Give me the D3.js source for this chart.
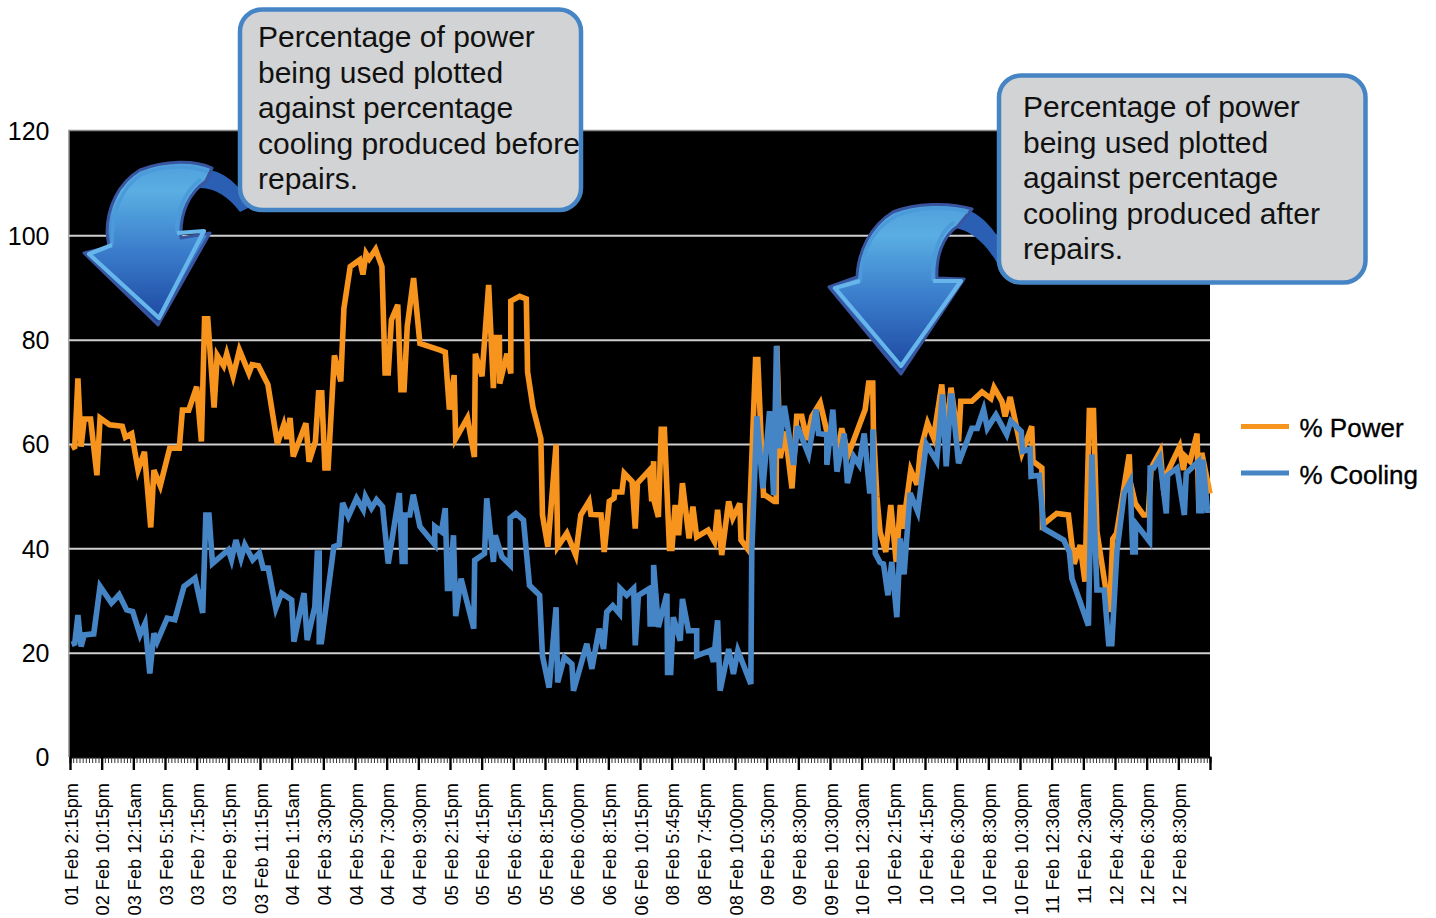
<!DOCTYPE html>
<html><head><meta charset="utf-8">
<style>html,body{margin:0;padding:0;background:#fff;overflow:hidden}svg{display:block}text{font-family:"Liberation Sans",Arial,sans-serif}</style>
<script src="https://cdn.jsdelivr.net/npm/d3@7/dist/d3.min.js"></script>
</head><body><svg id="c" width="1436" height="918"></svg>
<script>
const tickLabels = ["01 Feb 2:15pm","02 Feb 10:15pm","03 Feb 12:15am","03 Feb 5:15pm","03 Feb 7:15pm","03 Feb 9:15pm","03 Feb 11:15pm","04 Feb 1:15am","04 Feb 3:30pm","04 Feb 5:30pm","04 Feb 7:30pm","04 Feb 9:30pm","05 Feb 2:15pm","05 Feb 4:15pm","05 Feb 6:15pm","05 Feb 8:15pm","06 Feb 6:00pm","06 Feb 8:15pm","06 Feb 10:15pm","08 Feb 5:45pm","08 Feb 7:45pm","08 Feb 10:00pm","09 Feb 5:30pm","09 Feb 8:30pm","09 Feb 10:30pm","10 Feb 12:30am","10 Feb 2:15pm","10 Feb 4:15pm","10 Feb 6:30pm","10 Feb 8:30pm","10 Feb 10:30pm","11 Feb 12:30am","11 Feb 2:30am","12 Feb 4:30pm","12 Feb 6:30pm","12 Feb 8:30pm"];
const yTicks = [0,20,40,60,80,100,120];
const seriesNames = ["% Power","% Cooling"];
const categoryCount = 360;
const majorEvery = 10;

const powerIdx = [0,1,2,3,4,6,8,9,12,16,17,19,21,23,25,26,28,31,34,35,37,39.5,41,42,43,45,46,48,49,51,53,56,57,59,62,65,67,68,69,70,74,75,77,78,79,80,81,83,85,86,88,91,92,93,94,96,98,99,100,101,103,104,105,106,108,110,116.4,118,119.3,120.8,121.3,125,127.2,127.5,129.6,131.7,133.2,133.8,135.1,135.2,137.5,138.7,138.7,141.5,143.6,144,145.7,148.2,148.7,150.4,153,153.5,156.4,159.2,160.8,163.4,164,167.2,168.2,169.8,171.3,171.5,173.8,174.5,177,178,178.7,182.5,183.2,183.8,184,185.3,186.2,187.2,188.8,189.6,190.6,191.7,192.9,195,196.2,197.4,201,203,204,205.3,207.5,208.8,211,211.4,213.7,216,216.7,218.5,219,221.9,222.5,222.7,223.8,225.3,227.5,229,230.6,232.2,233.8,236.4,238.5,242.2,243.2,245.3,250.6,251.7,253,253.2,254.3,255.3,257.1,258.7,260.4,261.7,262.5,265,267,268,270.3,272.2,274.8,276.2,277.7,280.1,280.8,284.3,287.5,290.3,291.3,293.8,294.8,296.4,300.1,303.2,303.6,306.4,306.6,311.1,314.8,316.6,318.5,320,321.4,322.7,323.8,326.4,327.8,328.8,330,334,334.3,335.9,338.5,340,340.9,343.8,345,345.9,349.9,351.1,351.7,353.2,355.4,356,356.9,359.5];
const powerVal = [59.2,59.5,72.6,59.5,64.8,64.8,54,65,63.7,63.4,61.3,62,55,58.5,44,55,52,59.2,59.2,66.5,66.5,71,60.5,84,84,67,77,75,77.3,73,78,73.6,75.2,75,71.4,60,63.7,61,65,57.6,64,56.6,60.5,69.8,69.8,55.4,55.4,77,72,86,94,95.3,92.5,96.5,95.5,97.3,94,73.6,73.6,83.8,86.7,70.4,70.4,82.5,91.8,79.3,78,77.6,66.6,73.2,61,65,57.5,77.3,73,90.5,70.7,80.4,80.4,71.6,77.3,73.5,87.4,88.3,87.8,73.8,67,61,46.4,40.3,59.9,40.3,42.9,38.7,46.4,49,46.5,46.4,39.3,49,49.6,50.8,50.8,54.4,52.8,43.8,52.5,55,49,56.7,49,46,62.8,62.8,40,40,48.3,42.5,52.5,41.9,48,42.2,43.5,41.3,47.4,38.7,49,45.8,48.6,41.6,39.7,76.2,76.2,50.2,50.2,49,49,78.8,57.3,62.4,51.5,65.3,65.3,60.8,65.3,67.9,62.4,59.5,63,58,66.6,71.7,71.7,63,50,43.2,39.3,48.3,37.4,48.3,43.8,55,52.2,58.6,64,61.2,71.4,61.5,70.8,60.5,68.2,68.2,70,68.7,70.8,68.2,65.3,69,58.3,63.4,56.7,55.4,44.5,46.7,46.4,37,40.6,33.6,66.4,66.4,43.2,32.9,27.8,41.8,42.9,58,52.8,48.6,46.4,46.4,55.4,58.6,50.2,54.4,59.5,55,57.6,56.7,62,47,58.3,50.5];

const coolingIdx = [0,1,2,3,4,7,9,12.6,15,17.4,19.3,21.6,23.2,24.7,26,27,30.2,32.6,35.5,39,41.4,42.4,43.4,44.5,49.5,50.5,51.9,53.5,54.7,57.2,59.3,60.5,62.1,64.5,66.3,69.5,70.2,73.4,74.4,76.8,77.6,78.2,78.2,78.9,82.8,84.5,85.6,87.4,90,92.1,92.8,94.7,96.3,98.2,100,103.5,104.4,105.3,105.3,106.8,107.9,110,114.7,114.7,116.8,118,118.7,119.3,120.6,121.3,123,127,127.3,130.4,131.1,133.2,133.8,135.9,138.5,138.5,140.3,142.7,144.6,147.8,148.7,150.8,153,153.5,155.6,158,158.5,162.7,164.3,166.6,168,169,170.9,173,173.2,175.3,177.5,178,179,182.5,182.7,183.8,183.8,185.3,188,188.2,189.2,190,192.2,192.9,194.8,197.4,197.4,201.7,202.7,204,204.8,207.5,209,210.4,214.5,214.8,216.4,218.3,220.4,221.7,222.6,223.5,225.1,226.7,228,229.2,232.7,235.1,235.9,238.5,238.5,240.4,241.7,244,245,247,248.7,250.3,252,253,253,253.8,255.3,256.4,257.8,259,260.6,261.7,262.9,264.8,267.2,269.9,273.2,275,276.2,277.7,278,280.1,284.3,286,288,289.2,291.9,295.3,296.6,299.9,300.3,302.7,303,305.6,307,313.3,315.1,315.9,321.1,322.2,323.8,326.1,327.5,328.5,330.1,332.4,334.3,335.1,335.9,336,340.4,340.6,341.7,343.6,345.7,346.1,349.1,351.4,352,355.9,356,356.9,357.2,358.7,359.5];
const coolingVal = [21.6,21.8,27.2,21.2,23.4,23.6,32.7,29.5,31.1,28.2,27.9,23.4,25.6,16,23.7,22.1,26.6,26.3,32.7,34.3,27.6,46.4,46.4,37.1,39.7,37.8,41.6,38.1,40.7,37.8,39.1,36.2,36.2,28.5,31.4,30.1,22.1,31.4,22.4,28.8,39.1,39.1,22.1,22.1,40.3,40.7,48.7,46.1,49.6,47.4,49.9,47.7,49.3,48,37.1,50.6,37.5,37.5,46.4,46.4,50.3,44.2,40.7,44.2,43.2,47.7,32.3,32.3,42.5,27,34.2,24.6,37.7,39,49.6,37.4,42.5,38.4,36.8,45.8,46.7,45.4,32.9,31,19.4,13.3,28.7,14.3,19.1,17.8,12.7,21.7,16.9,24.6,20.7,27.8,29,27.5,32.3,31,32.3,21.4,31,32.3,25.5,25.5,36.8,24.9,31.3,16.2,16.2,26.8,22.3,30.3,24.2,24.2,19.4,20.4,18.2,26.2,12.7,20.7,15.9,20.4,14,39.3,65.3,51.5,66.3,50.2,78.8,59.2,67.3,61.2,56,63.4,58,66.6,62,61.8,56,66.6,54.7,62,52.5,57.6,56,62,51,51,62.8,39,37.3,37,31,37.4,26.8,41.9,35,50.6,47,60,56.7,69.5,55.7,69.2,69.2,56.3,63,63,66.6,63,65.6,61.8,64.4,62.4,58.6,59,53.8,54,43.8,41.6,39.3,34.2,25.2,58,32,32,21.7,21.7,39.3,50.6,52.8,39.3,39.3,44.8,41.3,55.4,55.4,57.3,46.7,54,55.4,46.4,54.4,56.7,47.2,47.2,57,47.3,47.3];

const calloutBefore = ["Percentage of power","being used plotted","against percentage","cooling produced before","repairs."];
const calloutAfter = ["Percentage of power","being used plotted","against percentage","cooling produced after","repairs."];

const colors = {power:"#F7941E", cooling:"#4685C5"};
const svg = d3.select("#c");
const x = d3.scaleLinear().domain([-0.5,categoryCount-0.5]).range([70,1210]);
const y = d3.scaleLinear().domain([0,120]).range([757,131]);

svg.append("rect").attr("x",69).attr("y",131).attr("width",1141).attr("height",626).attr("fill","#000");
svg.append("path").attr("d","M69,757V130.5H1210").attr("fill","none").attr("stroke","#8c8c8c").attr("stroke-width",1.5);

// Y axis + gridlines
const yAxis = svg.append("g").attr("transform","translate(69,0)")
  .call(d3.axisLeft(y).tickValues(yTicks).tickSize(0).tickPadding(19.5).tickFormat(d3.format("d")));
yAxis.select(".domain").remove();
yAxis.selectAll("text").attr("font-size",25).attr("fill","#000").attr("font-family","Liberation Sans").attr("dy","0.35em");
svg.append("g").attr("transform","translate(69,0)")
  .call(d3.axisLeft(y).tickValues(yTicks.filter(d=>d>0&&d<120)).tickSize(-1141).tickFormat(""))
  .call(g=>g.select(".domain").remove())
  .selectAll("line").attr("stroke","#cfcfcf").attr("stroke-width",2);

// X axis
const minor = d3.range(0,categoryCount+1).map(i=>i-0.5);
svg.append("g").attr("transform","translate(0,757)")
  .call(d3.axisBottom(x).tickValues(minor).tickSize(6).tickFormat(""))
  .call(g=>g.select(".domain").attr("stroke","#000").attr("stroke-width",2))
  .selectAll("line").attr("stroke","#333").attr("stroke-width",1);
const majors = d3.range(0,categoryCount+1,majorEvery).map(i=>i-0.5);
const xMajor = svg.append("g").attr("transform","translate(0,757)")
  .call(d3.axisBottom(x).tickValues(majors).tickSize(13).tickFormat((d,i)=>tickLabels[i]||""));
xMajor.select(".domain").remove();
xMajor.selectAll("line").attr("stroke","#000").attr("stroke-width",2.4);
xMajor.selectAll("text").attr("font-size",18.2).attr("fill","#000").attr("font-family","Liberation Sans")
  .attr("text-anchor","end").attr("dy",null).attr("y",0)
  .attr("transform","translate(7,26) rotate(-90)");

// Series
const line = d3.line().x(d=>x(d[0])).y(d=>y(d[1])).curve(d3.curveLinear);
const zipS = (a,b)=>a.map((v,i)=>[v,b[i]]);
[[powerIdx,powerVal,colors.power],[coolingIdx,coolingVal,colors.cooling]].forEach(([a,b,c])=>{
  svg.append("path").datum(zipS(a,b)).attr("d",line).attr("fill","none").attr("stroke",c)
    .attr("stroke-width",5.6).attr("stroke-linejoin","miter").attr("stroke-miterlimit",4);
});

// Legend
const lg = svg.append("g");
[[426.5,colors.power,seriesNames[0],437],[473,colors.cooling,seriesNames[1],483.5]].forEach(([ly,c,t,b])=>{
  lg.append("rect").attr("x",1241).attr("y",ly-2.5).attr("width",48).attr("height",5).attr("fill",c);
  lg.append("text").attr("x",1299.5).attr("y",b).attr("font-size",26).attr("fill","#000").attr("stroke","#000").attr("stroke-width",0.35).text(t);
});

// Gradient and softening for the arrows
const defs = svg.append("defs");
const g1 = defs.append("linearGradient").attr("id","ag").attr("x1",0).attr("y1",0).attr("x2",0).attr("y2",1);
g1.append("stop").attr("offset","0%").attr("stop-color","#4f9fdc");
g1.append("stop").attr("offset","18%").attr("stop-color","#5aaee2");
g1.append("stop").attr("offset","55%").attr("stop-color","#3a7ccb");
g1.append("stop").attr("offset","100%").attr("stop-color","#1c459e");
defs.append("filter").attr("id","soft").append("feGaussianBlur").attr("stdDeviation",0.7);

function arrow(ribbon, body, inner, rim){
  const g = svg.append("g").attr("filter","url(#soft)");
  g.append("path").attr("d",ribbon).attr("fill","#2a5fb4");
  g.append("path").attr("d",body).attr("fill","url(#ag)").attr("stroke","#39549f").attr("stroke-width",3).attr("stroke-linejoin","round");
  g.append("path").attr("d",rim).attr("fill","none").attr("stroke","#4c9bdb").attr("stroke-width",3.5).attr("stroke-linejoin","round");
  g.append("path").attr("d",inner).attr("fill","none").attr("stroke","#66b6ec").attr("stroke-width",4.2).attr("stroke-linejoin","round");
}
arrow("M186,180C205,160 232,172 252,206L240,212C225,192 205,182 184,192Z",
      "M212,168C195,160 165,160 140,170C118,183 107,208 107,233L109,247L84,253L158,325L210,233L181,238C180,212 188,194 206,181Z",
      "M112,245L89,254L159,318L204,231L177,233",
      "M112,245C111,215 120,188 142,174C165,165 190,165 208,172M177,233C176,212 184,192 201,179");
arrow("M944,214C965,200 990,215 1012,262L1000,268C985,240 965,224 942,228Z",
      "M972,209C950,202 915,203 893,212C870,226 858,252 857,277L829,287L901,374L964,279L937,278C936,258 942,236 958,226Z",
      "M860,281L835,288L901,366L961,281L933,281",
      "M860,281C861,252 873,229 896,216C918,207 948,206 968,212M933,281C932,256 938,234 954,222");

// Callouts
function callout(bx,by,bw,bh,lines,tx,ty0,lh){
  svg.append("rect").attr("x",bx).attr("y",by).attr("width",bw).attr("height",bh).attr("rx",22)
    .attr("fill","#d1d3d4").attr("stroke","#4685C5").attr("stroke-width",4.5);
  svg.append("g").selectAll("text").data(lines).join("text").attr("x",tx).attr("y",(d,i)=>ty0+i*lh)
    .attr("font-size",30).attr("fill","#111").text(d=>d);
}
callout(240,9.5,341,200.5,calloutBefore,258,47,35.5);
callout(999,75.5,366.5,207,calloutAfter,1023,117,35.5);
</script></body></html>
